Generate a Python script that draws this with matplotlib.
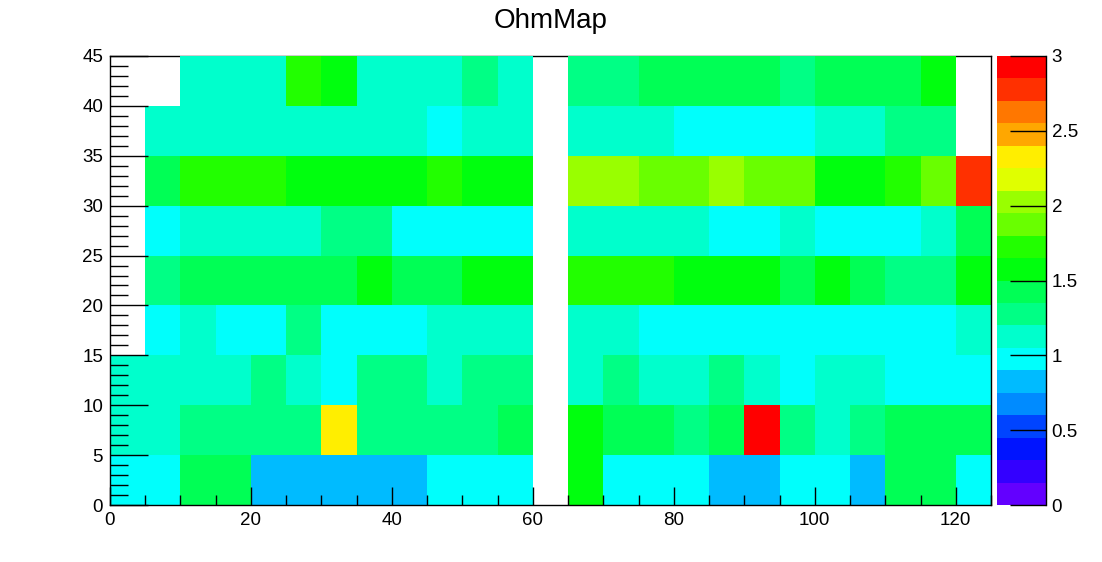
import colorsys

import matplotlib
matplotlib.use("Agg")
import matplotlib.pyplot as plt
import numpy as np
from matplotlib.colors import BoundaryNorm, ListedColormap
from matplotlib.ticker import MultipleLocator, FormatStrFormatter

plt.rcParams['font.family'] = ['Liberation Sans', 'DejaVu Sans']

n = np.nan

# bin edges of the 2D histogram
x_edges = np.arange(0, 130, 5)
y_edges = np.arange(0, 50, 5)

# one list per y bin (bottom to top), 25 x bins each; nan = empty bin
row_0 = [0.97, 0.97, 1.42, 1.42, 0.82, 0.82, 0.82, 0.82, 0.82, 0.97, 0.97, 0.97, n,
         1.57, 0.97, 0.97, 0.97, 0.82, 0.82, 0.97, 0.97, 0.82, 1.42, 1.42, 0.97]
row_5 = [1.12, 1.12, 1.27, 1.27, 1.27, 1.27, 2.32, 1.27, 1.27, 1.27, 1.27, 1.42, n,
         1.57, 1.42, 1.42, 1.27, 1.42, 2.92, 1.27, 1.12, 1.27, 1.42, 1.42, 1.42]
row_10 = [1.12, 1.12, 1.12, 1.12, 1.27, 1.12, 0.97, 1.27, 1.27, 1.12, 1.27, 1.27, n,
          1.12, 1.27, 1.12, 1.12, 1.27, 1.12, 0.97, 1.12, 1.12, 0.97, 0.97, 0.97]
row_15 = [n, 0.97, 1.12, 0.97, 0.97, 1.27, 0.97, 0.97, 0.97, 1.12, 1.12, 1.12, n,
          1.12, 1.12, 0.97, 0.97, 0.97, 0.97, 0.97, 0.97, 0.97, 0.97, 0.97, 1.12]
row_20 = [n, 1.27, 1.42, 1.42, 1.42, 1.42, 1.42, 1.57, 1.42, 1.42, 1.57, 1.57, n,
          1.72, 1.72, 1.72, 1.57, 1.57, 1.57, 1.42, 1.57, 1.42, 1.27, 1.27, 1.57]
row_25 = [n, 0.97, 1.12, 1.12, 1.12, 1.12, 1.27, 1.27, 0.97, 0.97, 0.97, 0.97, n,
          1.12, 1.12, 1.12, 1.12, 0.97, 0.97, 1.12, 0.97, 0.97, 0.97, 1.12, 1.42]
row_30 = [n, 1.42, 1.72, 1.72, 1.72, 1.57, 1.57, 1.57, 1.57, 1.72, 1.57, 1.57, n,
          2.02, 2.02, 1.87, 1.87, 2.02, 1.87, 1.87, 1.57, 1.57, 1.72, 1.87, 2.77]
row_35 = [n, 1.12, 1.12, 1.12, 1.12, 1.12, 1.12, 1.12, 1.12, 0.97, 1.12, 1.12, n,
          1.12, 1.12, 1.12, 0.97, 0.97, 0.97, 0.97, 1.12, 1.12, 1.27, 1.27, n]
row_40 = [n, n, 1.12, 1.12, 1.12, 1.72, 1.57, 1.12, 1.12, 1.12, 1.27, 1.12, n,
          1.27, 1.27, 1.42, 1.42, 1.42, 1.42, 1.27, 1.42, 1.42, 1.42, 1.57, n]

z = np.array([row_0, row_5, row_10, row_15, row_20, row_25, row_30, row_35, row_40])

# ROOT "pretty" palette (50 colours, violet -> red), 20 contours between 0 and 3
pretty = []
for i in range(50):
    hue = max(280 - (i + 1) * 5.6, 0)
    pretty.append(colorsys.hls_to_rgb(hue / 360, 0.5, 1.0))
n_cont = 20
colors = [pretty[int((j + 0.99) * 50 / n_cont)] for j in range(n_cont)]
levels = np.linspace(0, 3, n_cont + 1)
cmap = ListedColormap(colors)
norm = BoundaryNorm(levels, cmap.N)

fig = plt.figure(figsize=(11.02, 5.62), dpi=100)
ax = fig.add_axes([110 / 1102, 1 - 505 / 562, 881 / 1102, 449 / 562])
cax = fig.add_axes([997 / 1102, 1 - 505 / 562, 49 / 1102, 449 / 562])

mesh = ax.pcolormesh(x_edges, y_edges, z, cmap=cmap, norm=norm, antialiased=False, zorder=1)
ax.set_xlim(0, 125)
ax.set_ylim(0, 45)
ax.spines['top'].set_zorder(0.5)
for s in ax.spines.values():
    s.set_linewidth(1.0)

ax.xaxis.set_major_locator(MultipleLocator(20))
ax.xaxis.set_minor_locator(MultipleLocator(5))
ax.yaxis.set_major_locator(MultipleLocator(5))
ax.yaxis.set_minor_locator(MultipleLocator(1))
ax.tick_params(axis='x', which='major', direction='in', length=13, width=1, pad=5, labelsize=13.5)
ax.tick_params(axis='x', which='minor', direction='in', length=7, width=1)
ax.tick_params(axis='y', which='major', direction='in', length=27, width=1, pad=5, labelsize=13.5)
ax.tick_params(axis='y', which='minor', direction='in', length=13, width=1)

cbar = fig.colorbar(mesh, cax=cax, ticks=np.arange(0, 3.01, 0.5))
cbar.outline.set_visible(False)
cax.plot([1, 1], [0, 1], transform=cax.transAxes, color='black', lw=1.0, clip_on=False)
cax.yaxis.set_major_formatter(FormatStrFormatter('%g'))
cax.tick_params(axis='y', which='major', direction='in', length=26, width=1, pad=4,
                labelsize=13.5, right=True, left=False)
cax.minorticks_off()

fig.text(0.5, 1 - 21 / 562, 'OhmMap', ha='center', va='center', fontsize=20)

fig.savefig('out.png', dpi=100)
